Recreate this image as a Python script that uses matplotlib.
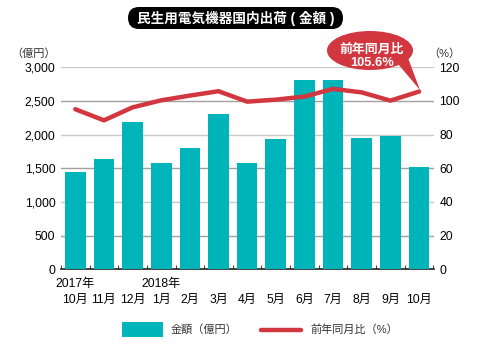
import matplotlib
matplotlib.use("Agg")
import matplotlib.pyplot as plt
from matplotlib.patches import FancyBboxPatch, Ellipse, Polygon, Rectangle
from matplotlib.lines import Line2D

plt.rcParams['font.family'] = ['Liberation Sans', 'Noto Sans CJK JP', 'DejaVu Sans']

months = ["10月", "11月", "12月", "1月", "2月", "3月", "4月", "5月", "6月", "7月", "8月", "9月", "10月"]
years = {0: "2017年", 3: "2018年"}
amount = [1440, 1634, 2183, 1579, 1797, 2307, 1583, 1935, 2811, 2811, 1950, 1980, 1519]
yoy = [95.1, 88.5, 96.2, 100.4, 103.2, 105.8, 99.6, 100.8, 102.6, 107.2, 105.1, 100.2, 105.6]
left_ticks = [0, 500, 1000, 1500, 2000, 2500, 3000]
right_ticks = [0, 20, 40, 60, 80, 100, 120]

TEAL = "#00B5BA"
RED = "#D2363F"

fig = plt.figure(figsize=(4.8, 3.45), dpi=100)
ax = fig.add_axes([0.127, 0.2194, 0.777, 0.5855])
ax2 = ax.twinx()

x = list(range(len(months)))
ax.bar(x, amount, width=0.72, color=TEAL, zorder=3)
ax.set_ylim(0, 3000)
ax.set_xlim(-0.48, 12.52)
ax.set_yticks(left_ticks)
ax.set_yticklabels([f"{v:,}" for v in left_ticks], fontsize=8.7)
for i, v in enumerate(left_ticks[1:]):
    ax.axhline(v, color="#a0a0a0" if i % 2 == 0 else "#c8c8c8", lw=1.0, zorder=1)

ax2.plot(x, yoy, color=RED, lw=3.2, solid_capstyle='round', zorder=4)
ax2.set_ylim(0, 120)
ax2.set_yticks(right_ticks)
ax2.set_yticklabels([str(v) for v in right_ticks], fontsize=8.7)

for a in (ax, ax2):
    for s in ("top", "left", "right"):
        a.spines[s].set_visible(False)
    a.tick_params(axis='y', length=0, pad=4)
ax.spines['bottom'].set_visible(True)
ax.spines['bottom'].set_color("#222222")
ax.spines['bottom'].set_linewidth(1.2)
ax2.spines['bottom'].set_visible(False)

ax.set_xticks([i + 0.5 for i in range(-1, 13)])
ax.set_xticklabels([])
ax.tick_params(axis='x', direction='in', length=3, color="#444444", width=0.8)
ax.set_zorder(ax2.get_zorder() - 1)
ax.patch.set_visible(False)

for i, m in enumerate(months):
    ax.text(i, -0.12, m, transform=ax.get_xaxis_transform(), ha='center', va='top', fontsize=8.7)
for i, y in years.items():
    ax.text(i, -0.045, y, transform=ax.get_xaxis_transform(), ha='center', va='top', fontsize=8.7)

fig.text(0.117, 0.845, "（億円）", ha='right', va='center', fontsize=8, color="#333333")
fig.text(0.96, 0.845, "（%）", ha='right', va='center', fontsize=8, color="#333333")

# Overlay for title, callout, legend (pixel coordinates)
ov = fig.add_axes([0, 0, 1, 1], zorder=10)
ov.set_xlim(0, 480)
ov.set_ylim(345, 0)
ov.axis('off')
ov.add_patch(FancyBboxPatch((128, 7), 215, 22, boxstyle="round,pad=0,rounding_size=11",
                            fc="black", ec="none"))
ov.text(235.5, 18.5, "民生用電気機器国内出荷 ( 金額 )", color="white", fontsize=9.8,
        fontweight='bold', ha='center', va='center')

# Callout
ov.add_patch(Polygon([[398, 64], [408, 58], [420, 90]], closed=True, fc=RED, ec="none"))
ov.add_patch(Ellipse((370, 50.5), 86, 39, fc=RED, ec="none"))
ov.text(372, 49.5, "前年同月比", color="white", fontsize=9.3, fontweight='bold', ha='center', va='center')
ov.text(372, 63, "105.6%", color="white", fontsize=9.3, fontweight='bold', ha='center', va='center')

# Legend
ov.add_patch(Rectangle((122, 322), 41, 15, fc=TEAL, ec="none"))
ov.text(171, 329.5, "金額（億円）", fontsize=8, ha='left', va='center', color="#333333")
ov.add_line(Line2D([261, 301], [329.5, 329.5], color=RED, lw=3.2, solid_capstyle='round'))
ov.text(310, 329.5, "前年同月比（%）", fontsize=8, ha='left', va='center', color="#333333")

fig.savefig("out.png", dpi=100)
